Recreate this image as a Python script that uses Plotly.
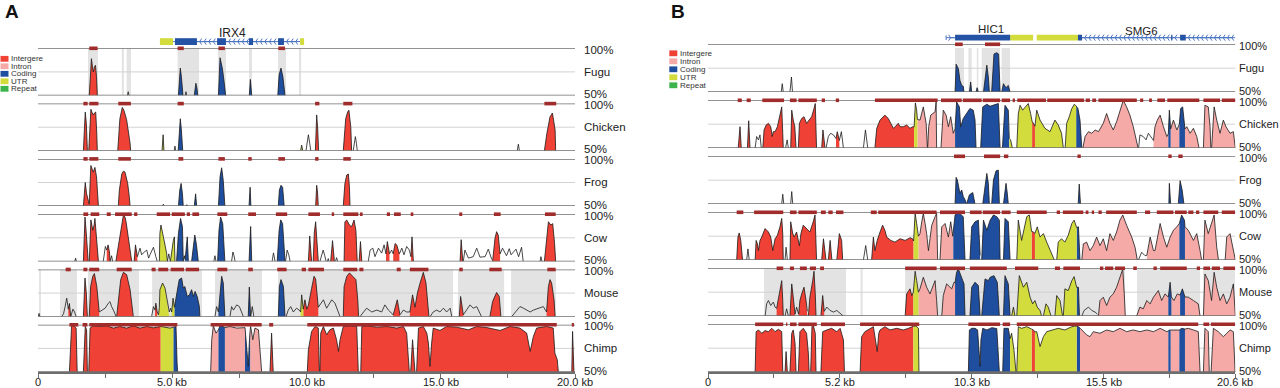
import numpy as np
import plotly.graph_objects as go

W_PX, H_PX = 1280, 388

# ---------------- categories / labels ----------------
SPECIES = ["Fugu", "Chicken", "Frog", "Cow", "Mouse", "Chimp"]
LEGEND_LABELS = ["Intergere", "Intron", "Coding", "UTR", "Repeat"]
LEGEND_KEYS = ["I", "N", "C", "U", "R"]
A_XTICKS = [0, 2.5, 5, 7.5, 10, 12.5, 15, 17.5, 20]
A_XTICKTEXT = ["0", "", "5.0 kb", "", "10.0 kb", "", "15.0 kb", "", "20.0 kb"]
B_XTICKS = [0, 2.575, 5.15, 7.725, 10.3, 12.875, 15.45, 18.025, 20.6]
B_XTICKTEXT = ["0", "", "5.2 kb", "", "10.3 kb", "", "15.5 kb", "", "20.6 kb"]

# ---------------- panel A conservation (kb, % identity) ----------------
A_FUGU = [
    ("I", [1.91, 1.95, 1.99, 2.03, 2.06, 2.10, 2.14, 2.18, 2.21], [50, 70, 89, 80, 75, 80, 82, 70, 50]),
    ("W", [3.33, 3.36, 3.39], [50, 54, 50]),
    ("C", [5.23, 5.27, 5.30, 5.34, 5.40], [50, 70, 79, 70, 50]),
    ("W", [5.48, 5.51, 5.54], [50, 54, 50]),
    ("C", [5.82, 5.86, 5.88, 5.92, 5.95], [50, 58, 63, 58, 50]),
    ("C", [6.72, 6.76, 6.78, 6.82, 6.87, 6.93, 6.99], [50, 75, 90, 85, 78, 65, 50]),
    ("C", [7.87, 7.91, 7.96], [50, 67, 50]),
    ("C", [8.93, 8.98, 9.05, 9.12, 9.20], [50, 72, 79, 70, 50]),
]
A_CHICKEN = [
    ("I", [1.69, 1.73, 1.76, 1.80, 1.84], [50, 83, 91, 79, 50]),
    ("I", [1.89, 1.93, 1.97, 2.02, 2.06, 2.10, 2.15, 2.19, 2.21], [50, 76, 94, 90, 88, 90, 91, 68, 50]),
    ("I", [2.97, 3.05, 3.14, 3.20, 3.30, 3.38, 3.43, 3.45], [50, 84, 96, 93, 83, 70, 58, 50]),
    ("U", [4.62, 4.66, 4.69], [50, 67, 50]),
    ("W", [5.07, 5.10, 5.13], [50, 55, 50]),
    ("C", [5.22, 5.26, 5.30, 5.34, 5.39], [50, 70, 84, 72, 50]),
    ("U", [9.78, 9.82, 9.86], [50, 56, 50]),
    ("W", [9.98, 10.03, 10.07, 10.12, 10.16], [50, 58, 67, 58, 50]),
    ("I", [10.33, 10.36, 10.38, 10.42, 10.45], [50, 80, 88, 72, 50]),
    ("I", [11.37, 11.41, 11.46, 11.53, 11.58, 11.65, 11.68], [50, 68, 84, 91, 93, 75, 50]),
    ("W", [11.74, 11.78, 11.82, 11.86, 11.89], [50, 58, 65, 58, 50]),
    ("W", [17.85, 17.89, 17.93], [50, 57, 50]),
    ("I", [18.86, 18.95, 19.07, 19.16, 19.26, 19.28], [50, 68, 86, 90, 72, 50]),
]
A_FROG = [
    ("I", [1.69, 1.73, 1.76, 1.81, 1.86, 1.91, 1.95, 1.97, 2.02, 2.06, 2.12, 2.18, 2.25],
     [50, 67, 75, 63, 56, 52, 81, 93, 89, 86, 91, 81, 50]),
    ("I", [2.99, 3.03, 3.12, 3.18, 3.24, 3.34, 3.40, 3.43], [50, 67, 84, 87, 86, 74, 60, 50]),
    ("W", [4.63, 4.67, 4.71], [50, 52, 50]),
    ("C", [5.23, 5.28, 5.33, 5.38, 5.41], [50, 67, 74, 63, 50]),
    ("W", [5.51, 5.54, 5.57], [50, 51.5, 50]),
    ("C", [5.82, 5.87, 5.91], [50, 63, 50]),
    ("C", [6.72, 6.78, 6.84, 6.90, 6.96], [50, 81, 90.6, 77, 50]),
    ("C", [7.86, 7.90, 7.93], [50, 70, 50]),
    ("C", [8.95, 8.99, 9.05, 9.11, 9.17], [50, 67, 72, 70, 50]),
    ("I", [10.34, 10.38, 10.41, 10.44], [50, 72, 65, 50]),
    ("I", [11.37, 11.43, 11.50, 11.56, 11.60, 11.62], [50, 74, 83, 84, 70, 50]),
]
A_COW = [
    ("W", [1.37, 1.40, 1.43], [50, 53.5, 50]),
    ("I", [1.69, 1.73, 1.75, 1.79, 1.84, 1.87], [50, 87, 97, 83, 62, 50]),
    ("I", [1.91, 1.95, 1.97, 2.04, 2.09, 2.12, 2.18, 2.25], [50, 83, 94, 83, 88.5, 95.5, 76, 50]),
    ("W", [2.43, 2.51, 2.56], [50, 65.8, 62]),
    ("I", [2.56, 2.61, 2.66, 2.69], [62, 67.5, 60, 50]),
    ("W", [2.69, 2.74, 2.78], [50, 56, 50]),
    ("I", [2.90, 2.99, 3.08, 3.18, 3.24, 3.28, 3.36, 3.45, 3.49], [50, 65.8, 83, 99, 97, 92, 76, 55, 50]),
    ("I", [3.58, 3.63, 3.70], [50, 67.5, 55]),
    ("W", [3.70, 3.80, 3.86, 3.92, 4.05, 4.12, 4.17, 4.30, 4.39, 4.44], [55, 64, 57, 59, 62, 53.5, 57, 65, 55, 50]),
    ("U", [4.52, 4.54, 4.58, 4.67, 4.73, 4.79, 4.82], [50, 79.8, 88.5, 76, 67.5, 58.8, 50]),
    ("W", [4.82, 4.87, 4.93], [50, 58, 50]),
    ("U", [4.93, 4.98, 5.04, 5.08, 5.10], [50, 62, 72, 76, 50]),
    ("C", [5.16, 5.23, 5.31, 5.38, 5.41], [50, 79.8, 95.5, 86.8, 50]),
    ("W", [5.41, 5.45, 5.48], [50, 56, 52]),
    ("C", [5.48, 5.53, 5.56, 5.60], [52, 70, 76, 50]),
    ("C", [5.72, 5.78, 5.84, 5.90, 5.97], [50, 65, 78, 68, 50]),
    ("W", [6.55, 6.59, 6.63], [50, 56, 50]),
    ("C", [6.69, 6.74, 6.80, 6.88, 6.96], [50, 83, 97, 90, 50]),
    ("W", [7.21, 7.26, 7.30, 7.34], [50, 60, 56, 50]),
    ("C", [7.86, 7.89, 7.92, 7.96], [50, 75, 87, 50]),
    ("W", [8.72, 8.77, 8.83], [50, 59, 50]),
    ("C", [8.91, 8.98, 9.04, 9.11, 9.20], [50, 83, 94, 90, 50]),
    ("W", [9.22, 9.28, 9.34, 9.39], [50, 62, 57, 50]),
    ("I", [10.07, 10.12, 10.19], [50, 77, 50]),
    ("I", [10.25, 10.29, 10.34, 10.39, 10.44], [50, 80, 92, 75, 50]),
    ("W", [10.50, 10.57, 10.62, 10.68, 10.73], [50, 58, 62, 56, 50]),
    ("W", [10.78, 10.81, 10.84], [50, 53, 50]),
    ("I", [10.90, 10.97, 11.04], [50, 72, 50]),
    ("W", [11.08, 11.12, 11.16], [50, 54, 50]),
    ("I", [11.40, 11.43, 11.50, 11.60, 11.68, 11.77, 11.84, 11.89], [50, 92, 93.8, 88.5, 86.8, 93.8, 83, 50]),
    ("I", [11.96, 12.01, 12.06], [50, 71, 50]),
    ("W", [12.30, 12.37, 12.47, 12.55, 12.68, 12.80, 12.89, 12.96], [50, 62, 64, 55, 64, 58.8, 67.5, 58]),
    ("I", [12.96, 13.01, 13.09], [58, 71, 58]),
    ("W", [13.09, 13.17, 13.23], [58, 62, 58]),
    ("I", [13.23, 13.30, 13.36, 13.46], [58, 69, 67.5, 58]),
    ("W", [13.46, 13.55, 13.63, 13.73, 13.83, 13.89], [58, 64, 57, 65.8, 62, 55]),
    ("I", [13.89, 13.93, 13.98], [55, 76, 50]),
    ("I", [15.72, 15.76, 15.82], [50, 73, 50]),
    ("W", [15.84, 15.90, 16.03, 16.21, 16.34, 16.46, 16.65, 16.77, 16.90], [50, 62, 53.5, 55, 64, 54.5, 55, 63, 52]),
    ("I", [16.93, 17.02, 17.08, 17.14, 17.21], [50, 74.5, 81.5, 78, 58]),
    ("W", [17.21, 17.30, 17.45, 17.55, 17.62, 17.80, 17.90, 18.01, 18.07], [58, 64, 56, 63.5, 57, 63, 55, 65, 50]),
    ("W", [18.70, 18.73, 18.77], [50, 55, 50]),
    ("I", [18.86, 18.95, 19.01, 19.10, 19.17, 19.24, 19.28], [50, 76, 92, 88.5, 90, 69, 50]),
]
A_MOUSE = [
    ("W", [0.01, 0.04, 0.07], [50, 53.5, 50]),
    ("W", [0.88, 0.95, 1.01, 1.07, 1.13], [50, 53, 60.7, 69.6, 58]),
    ("I", [1.13, 1.17, 1.22], [58, 64, 50]),
    ("W", [1.22, 1.30, 1.36, 1.42], [50, 58, 55, 50]),
    ("I", [1.69, 1.73, 1.75, 1.80, 1.84], [50, 82, 91, 75, 50]),
    ("I", [1.91, 1.96, 2.04, 2.10, 2.19, 2.25, 2.28], [50, 82, 92.8, 95.7, 82, 67.9, 55]),
    ("W", [2.28, 2.37, 2.50, 2.62, 2.68, 2.74, 2.81, 2.91], [55, 57, 59, 64.3, 66, 60.7, 57, 50]),
    ("I", [2.93, 2.99, 3.08, 3.18, 3.30, 3.43, 3.53, 3.55], [50, 67.9, 89.3, 97, 94.6, 78.6, 57, 50]),
    ("W", [4.23, 4.30, 4.36], [50, 60.7, 57]),
    ("I", [4.36, 4.39, 4.44], [57, 64.3, 55]),
    ("W", [4.44, 4.49], [55, 52]),
    ("U", [4.49, 4.52, 4.54, 4.64, 4.73, 4.79, 4.85, 4.89], [52, 60, 78.6, 85.7, 80.4, 69.6, 60.7, 55]),
    ("W", [4.89, 4.94, 4.98], [55, 59, 55]),
    ("U", [4.98, 5.03, 5.08], [55, 69.6, 60]),
    ("C", [5.08, 5.16, 5.26, 5.35, 5.41, 5.47, 5.56, 5.64, 5.72, 5.79, 5.85, 5.93, 6.01, 6.03],
     [60, 71.4, 89.3, 91, 80.4, 82, 71.4, 73.2, 78.6, 71.4, 76.8, 71.4, 60.7, 50]),
    ("W", [6.59, 6.65, 6.72], [50, 60.7, 55]),
    ("C", [6.72, 6.80, 6.84, 6.90, 6.96], [55, 82, 92.8, 85.7, 50]),
    ("W", [7.15, 7.21, 7.28, 7.40, 7.50, 7.59, 7.65], [50, 60.7, 57, 62.5, 60.7, 55, 50]),
    ("C", [7.83, 7.87, 7.92], [50, 81.4, 50]),
    ("W", [7.92, 7.98, 8.04], [50, 60.7, 50]),
    ("C", [8.95, 8.99, 9.05, 9.14, 9.20], [50, 82, 89.3, 82, 50]),
    ("W", [9.24, 9.32, 9.41, 9.51, 9.63, 9.73, 9.78], [50, 57, 60.7, 55, 59, 57, 55]),
    ("U", [9.78, 9.82, 9.88], [55, 73.2, 58]),
    ("I", [9.88, 9.94, 10.01, 10.07, 10.19, 10.28, 10.34, 10.40, 10.44], [58, 67.9, 58, 62, 80, 92.8, 90, 75, 60]),
    ("W", [10.44, 10.63, 10.75, 10.94, 11.06, 11.19, 11.25], [60, 67.9, 59, 67.9, 64.3, 55, 50]),
    ("I", [11.37, 11.40, 11.50, 11.60, 11.72, 11.84, 11.91, 11.94], [50, 82, 92.8, 96.4, 92.8, 89.3, 67.9, 50]),
    ("W", [11.99, 12.12, 12.24, 12.43, 12.62, 12.80, 12.92, 13.05, 13.23], [50, 55, 59, 55, 57, 55, 62.5, 57, 52]),
    ("I", [13.23, 13.30, 13.38, 13.48], [52, 60, 67.9, 52]),
    ("W", [13.48, 13.61, 13.73, 13.85], [52, 57, 55, 55]),
    ("I", [13.85, 13.95, 14.04, 14.13, 14.23, 14.35, 14.45, 14.54, 14.56], [55, 73.2, 60, 75, 85.7, 97, 85.7, 57, 50]),
    ("W", [14.60, 14.72, 14.85, 14.97, 15.10, 15.22, 15.35, 15.41], [50, 55, 57, 55, 59, 55, 59, 50]),
    ("I", [15.69, 15.74, 15.84], [50, 71.4, 52]),
    ("W", [15.84, 15.97, 16.09, 16.21, 16.34, 16.52], [52, 57, 62.5, 59, 60.7, 50]),
    ("I", [16.83, 16.93, 17.08, 17.18, 17.24], [50, 66, 75.7, 71.4, 50]),
    ("W", [17.64, 17.83, 17.95, 18.08, 18.20, 18.33, 18.45, 18.63, 18.82, 18.94], [50, 57, 60.7, 59, 57, 55, 57, 59, 60.7, 55]),
    ("I", [18.94, 19.01, 19.07, 19.13, 19.22, 19.26], [55, 82, 89.3, 85.7, 67.9, 50]),
]
A_CHIMP = [
    ("I", [1.17, 1.22, 1.25, 1.34, 1.42, 1.46], [50, 80.6, 98.2, 98.9, 96.5, 50]),
    ("I", [1.69, 1.73, 1.76, 1.81, 1.84], [50, 84.2, 98.2, 94.7, 50]),
    ("I", [1.89, 1.94, 2.06, 2.31, 2.56, 2.81, 3.05, 3.30, 3.55, 3.80, 4.05, 4.30, 4.57],
     [50, 96.5, 98.9, 98.2, 98.9, 96.5, 98.2, 96.5, 98.9, 96.5, 98.2, 96.8, 98.2]),
    ("U", [4.57, 4.73, 4.92, 5.04], [98.2, 97.5, 96.5, 97.5]),
    ("C", [5.04, 5.14, 5.18, 5.20], [97.5, 98.2, 60, 50]),
    ("N", [6.43, 6.47, 6.53, 6.63, 6.72], [50, 84.2, 98.9, 91.2, 94.7]),
    ("C", [6.72, 6.78, 6.90, 6.96], [94.7, 98.9, 98.2, 97]),
    ("N", [6.96, 7.15, 7.40, 7.71], [97, 98.2, 96.5, 97]),
    ("C", [7.71, 7.77, 7.83, 7.87, 7.90], [97, 73.6, 56, 80.6, 94]),
    ("N", [7.90, 7.92, 8.00, 8.08, 8.21, 8.29, 8.33], [94, 98.2, 84.2, 96.5, 94.7, 63, 50]),
    ("I", [8.64, 8.70, 8.76], [50, 91.2, 50]),
    ("I", [10.03, 10.07, 10.19, 10.32, 10.44, 10.48], [50, 73.6, 93, 98.2, 96.5, 50]),
    ("I", [10.50, 10.53, 10.63, 10.75, 10.87, 11.00, 11.12, 11.19, 11.25, 11.31, 11.37, 11.62, 11.87, 11.93],
     [50, 91.2, 98.2, 89.4, 94.7, 96.5, 84.2, 71.8, 84.2, 91.2, 98.2, 98.9, 98.2, 50]),
    ("I", [12.02, 12.06, 12.24, 12.62, 13.00, 13.36, 13.61, 13.73, 13.79, 13.83],
     [50, 98.2, 98.9, 97.5, 98.2, 96.5, 98.2, 91.2, 66.5, 50]),
    ("I", [13.88, 13.95, 14.04], [50, 84.2, 50]),
    ("I", [14.10, 14.17, 14.35, 14.48, 14.54, 14.60, 14.66, 14.72, 14.97, 15.22, 15.59, 16.03, 16.34, 16.71,
           17.21, 17.58, 17.95, 18.20, 18.33, 18.45, 18.57, 18.94, 19.19, 19.25, 19.34, 19.38],
     [50, 96.5, 98.2, 91.2, 80.6, 56, 80.6, 96.5, 94, 98.2, 97.5, 94.7, 98.2, 97.1,
      94, 98.2, 96.5, 91.2, 71.8, 87.7, 96.5, 98.2, 96.5, 70, 63, 50]),
    ("I", [19.88, 19.91, 19.96], [50, 93, 50]),
]

# conserved-region bars and shaded blocks (kb)
A_FUGU_BARS = [[1.91, 2.22], [5.20, 5.43], [6.72, 6.96], [8.95, 9.20]]
A_CHICKEN_BARS = [[1.69, 1.85], [1.91, 2.25], [2.99, 3.46], [5.20, 5.43], [10.32, 10.48], [11.37, 11.71], [18.86, 19.30]]
A_FROG_BARS = [[1.69, 1.85], [1.91, 2.25], [2.99, 3.46], [5.23, 5.41], [6.72, 6.96], [7.83, 7.96], [8.95, 9.20],
               [10.32, 10.45], [11.37, 11.65]]
A_COW_BARS = [[1.69, 1.87], [1.96, 2.28], [2.56, 2.71], [2.87, 3.49], [3.58, 3.70], [4.42, 4.92], [4.98, 5.47],
              [5.54, 5.66], [5.75, 6.00], [6.68, 7.05], [7.83, 8.12], [8.86, 9.28], [10.07, 10.50], [10.94, 11.03],
              [11.37, 11.93], [11.99, 12.09], [12.99, 13.11], [13.26, 13.51], [13.88, 13.98], [15.69, 15.80],
              [16.98, 17.23], [18.88, 19.28]]
A_MOUSE_BARS = [[1.03, 1.22], [1.69, 1.84], [1.91, 2.28], [2.93, 3.49], [4.23, 4.38], [4.48, 4.85], [4.94, 5.44],
                [5.50, 6.00], [6.68, 7.05], [7.83, 8.00], [8.91, 9.26], [9.82, 9.98], [10.07, 10.65], [11.37, 11.89],
                [11.97, 12.12], [13.36, 13.51], [13.85, 14.54], [15.69, 15.82], [16.81, 17.27], [18.97, 19.28]]
A_CHIMP_BARS = [[1.17, 1.50], [1.66, 1.84], [1.91, 5.19], [6.43, 8.33], [8.61, 8.76], [10.03, 19.32], [19.88, 19.96]]
A_FUGU_GRAY = [[1.86, 2.23], [3.12, 3.20], [3.30, 3.46], [5.20, 6.00], [6.70, 7.00], [7.86, 7.97], [8.94, 9.24], [9.72, 9.80]]
A_MOUSE_GRAY = [[0.04, 0.11], [0.82, 1.45], [1.86, 3.76], [4.25, 6.11], [6.59, 8.34], [8.94, 15.46], [15.64, 17.36], [17.62, 19.29]]

# gene model A (IRX4)
A_GENE_NAME = "IRX4"
A_GENE_NAME_X = 7.23
A_GENE_UTR = [[4.54, 5.03], [9.76, 9.91]]
A_GENE_CDS = [[5.10, 5.92], [6.67, 7.00], [7.86, 8.01], [8.94, 9.16]]
A_GENE_INTRONS = [[5.92, 6.67], [7.00, 7.86], [8.01, 8.94], [9.16, 9.76]]

# ---------------- panel B conservation ----------------
B_FUGU = [
    ("W", [2.86, 2.90, 2.94], [50, 58.8, 50]),
    ("W", [3.20, 3.26, 3.30], [50, 65.8, 50]),
    ("C", [9.65, 9.69, 9.78, 9.84, 9.91, 9.97, 10.00], [50, 79.2, 74.6, 62.3, 57, 56, 50]),
    ("C", [10.21, 10.26, 10.30], [50, 60.6, 50]),
    ("C", [10.47, 10.51, 10.56], [50, 54.6, 50]),
    ("C", [10.76, 10.82, 10.89, 10.95, 10.99], [50, 65.8, 78.2, 65.8, 50]),
    ("C", [11.08, 11.12, 11.17, 11.28, 11.35, 11.41], [50, 72.9, 89.8, 91.2, 89.8, 50]),
    ("C", [11.47, 11.54, 11.64, 11.73, 11.80], [50, 58.8, 54.6, 57, 50]),
]
B_CHICKEN = [
    ("I", [1.18, 1.22, 1.25, 1.30], [50, 69, 72.4, 50]),
    ("I", [1.54, 1.59, 1.64], [50, 78.6, 50]),
    ("W", [1.84, 1.90, 1.97, 2.03, 2.08], [50, 62.1, 58.6, 63.8, 50]),
    ("I", [2.14, 2.19, 2.27, 2.36, 2.45, 2.51, 2.55, 2.62, 2.71, 2.81, 2.88, 2.92, 2.94],
     [50, 69, 74.1, 75.9, 72.4, 62.1, 67.2, 67.2, 72.4, 84.5, 93.1, 65.5, 50]),
    ("W", [3.03, 3.09, 3.14], [50, 58.6, 50]),
    ("I", [3.23, 3.27, 3.33, 3.39, 3.44], [50, 89.7, 79.3, 72.4, 50]),
    ("I", [3.53, 3.57, 3.66, 3.75, 3.85, 3.96, 4.05, 4.14, 4.19, 4.24], [50, 75.9, 81, 82.8, 75.9, 79.3, 82.8, 91.4, 96.6, 50]),
    ("I", [4.44, 4.49, 4.57], [50, 69, 50]),
    ("W", [4.61, 4.70, 4.79, 4.90, 5.00], [50, 62.1, 65.5, 63.8, 60]),
    ("I", [5.00, 5.05, 5.13], [60, 67.2, 58]),
    ("W", [5.13, 5.21, 5.29], [58, 67.2, 50]),
    ("W", [6.07, 6.15, 6.24], [50, 69, 50]),
    ("I", [6.52, 6.59, 6.72, 6.91, 7.04, 7.24, 7.34, 7.43, 7.50, 7.63, 7.76, 7.89, 7.99, 8.05],
     [50, 70.7, 79.3, 84.5, 81, 70.7, 73.1, 75.9, 72.4, 72.4, 74.1, 70.7, 72.4, 72]),
    ("U", [8.05, 8.10, 8.15, 8.18], [72, 97.3, 89.7, 80]),
    ("N", [8.18, 8.28, 8.41, 8.52, 8.57], [80, 79.3, 93.1, 75.9, 50]),
    ("N", [8.58, 8.62, 8.70, 8.80, 8.87, 8.91, 8.93], [50, 72.4, 84.5, 86.2, 88, 98.3, 50]),
    ("N", [9.10, 9.19, 9.30, 9.39, 9.48, 9.58, 9.65], [50, 89.7, 84.5, 72.4, 82.8, 65.5, 70]),
    ("C", [9.65, 9.71, 9.82, 9.87, 9.97, 10.10, 10.23, 10.36, 10.43, 10.47], [70, 98.3, 93.1, 72.4, 81, 86.2, 91.4, 89.7, 79.3, 50]),
    ("C", [10.65, 10.73, 10.89, 11.02, 11.21, 11.34, 11.41], [50, 93.1, 95.9, 93.8, 95.5, 96.6, 50]),
    ("C", [11.50, 11.60, 11.73, 11.77], [50, 94.8, 89.7, 60]),
    ("U", [11.77, 11.82, 11.89], [60, 58.6, 50]),
    ("U", [12.06, 12.12, 12.19, 12.29, 12.42, 12.51, 12.60, 12.66], [50, 86.2, 94.8, 89.7, 93.8, 96.6, 86.2, 78]),
    ("I", [12.66, 12.71, 12.77], [78, 75.9, 73]),
    ("U", [12.77, 12.84, 12.97, 13.16, 13.36, 13.55, 13.68, 13.81, 13.88], [73, 89.7, 79.3, 70.7, 67.2, 79.3, 74.1, 65.5, 50]),
    ("U", [13.95, 14.01, 14.11, 14.21, 14.31, 14.38], [50, 75.9, 82.8, 91.4, 95.9, 94]),
    ("C", [14.38, 14.45, 14.53, 14.60], [94, 91.4, 79.3, 50]),
    ("N", [14.64, 14.73, 14.86, 14.99, 15.12, 15.25, 15.44, 15.57, 15.70, 15.83, 15.96, 16.09, 16.22, 16.35,
           16.48, 16.61, 16.74, 16.80],
     [50, 62.1, 67.2, 65.5, 69, 67.2, 75.9, 86.2, 75.9, 69, 77.6, 89.7, 100, 93.1, 84.5, 72.4, 58.6, 50]),
    ("W", [16.82, 16.87, 17.00, 17.11, 17.20, 17.33, 17.40], [50, 63.8, 62.1, 58.6, 65.5, 60.3, 58]),
    ("N", [17.40, 17.46, 17.55, 17.66, 17.79, 17.92, 17.98], [58, 72.4, 79.3, 84.5, 72.4, 62.1, 65]),
    ("C", [17.98, 18.02, 18.07], [65, 89.7, 70]),
    ("N", [18.07, 18.18, 18.31, 18.41], [70, 79.3, 69, 75]),
    ("C", [18.41, 18.46, 18.54, 18.61, 18.63], [75, 91.4, 93.1, 79.3, 70]),
    ("N", [18.63, 18.70, 18.83, 18.96, 19.09, 19.15, 19.18], [70, 72.4, 65.5, 70.7, 62.1, 51.7, 50]),
    ("N", [19.35, 19.41, 19.54, 19.61, 19.64], [50, 94.8, 93.1, 72.4, 50]),
    ("N", [19.67, 19.77, 19.87, 20.00, 20.13, 20.23, 20.39, 20.52, 20.59, 20.60],
     [50, 93.1, 79.3, 65.5, 79.3, 72.4, 65.5, 67.2, 51.7, 50]),
]
B_FROG = [
    ("W", [2.88, 2.92, 2.96], [50, 60.3, 50]),
    ("W", [3.23, 3.27, 3.31], [50, 63.1, 50]),
    ("C", [9.65, 9.69, 9.74, 9.84, 9.91, 9.97, 10.04, 10.10], [50, 78, 75.2, 61.4, 64.8, 57.9, 54.5, 50]),
    ("C", [10.10, 10.21, 10.34, 10.43], [50, 59.7, 62.1, 50]),
    ("C", [10.73, 10.82, 10.89, 10.95, 10.99], [50, 68.3, 82.1, 71.7, 50]),
    ("C", [11.08, 11.15, 11.25, 11.34, 11.38], [50, 75.2, 84.8, 85.5, 50]),
    ("C", [11.54, 11.60, 11.64, 11.69, 11.73], [50, 68.3, 71.7, 61.4, 50]),
    ("C", [14.46, 14.50, 14.55], [50, 71, 50]),
    ("C", [18.00, 18.02, 18.07], [50, 71.7, 50]),
    ("C", [18.37, 18.44, 18.52, 18.59], [50, 74.5, 64.8, 50]),
]
B_COW = [
    ("I", [1.12, 1.17, 1.22, 1.28, 1.35], [50, 74.1, 78.4, 70.6, 50]),
    ("W", [1.51, 1.56, 1.61], [50, 61.7, 50]),
    ("I", [1.84, 1.88, 1.93, 1.97, 2.03, 2.10, 2.23, 2.36, 2.45, 2.53, 2.62, 2.71, 2.81, 2.88, 2.92, 2.94],
     [50, 70.6, 67, 59.9, 70.6, 74.1, 83, 79.4, 74.1, 59.9, 72.3, 75.9, 84.8, 93.6, 77.7, 50]),
    ("W", [3.01, 3.05, 3.10], [50, 63.5, 50]),
    ("I", [3.20, 3.23, 3.31, 3.37, 3.46, 3.53, 3.57], [50, 90.1, 77.7, 74.1, 79.4, 70.6, 65]),
    ("I", [3.57, 3.63, 3.72, 3.85, 3.98, 4.11, 4.18, 4.22, 4.24], [65, 77.7, 86.5, 83, 79.4, 90.1, 97.2, 67, 50]),
    ("I", [4.44, 4.51, 4.61], [50, 72.3, 50]),
    ("I", [4.70, 4.77, 4.84], [50, 70.6, 50]),
    ("I", [5.03, 5.13, 5.22, 5.26], [50, 77.7, 70.6, 50]),
    ("W", [6.07, 6.16, 6.24], [50, 65.2, 50]),
    ("I", [6.39, 6.46, 6.52, 6.61, 6.72, 6.82, 6.91, 6.98, 7.14, 7.30, 7.50, 7.70, 7.89, 7.99, 8.03],
     [50, 74.1, 59.9, 70.6, 79.4, 86.5, 81.2, 74.1, 70.6, 68.8, 72.3, 70.6, 73.4, 72.3, 70]),
    ("U", [8.03, 8.09, 8.15, 8.22], [70, 98.9, 88.3, 75]),
    ("N", [8.22, 8.28, 8.35, 8.41, 8.48, 8.54, 8.61, 8.67, 8.74, 8.87, 8.93, 8.97],
     [75, 77.7, 90.1, 98.9, 88.3, 77.7, 59.9, 74.1, 86.5, 95.4, 98.9, 50]),
    ("N", [9.06, 9.13, 9.26, 9.39, 9.48, 9.56, 9.58], [50, 84.8, 88.3, 74.1, 90.1, 75, 80]),
    ("C", [9.58, 9.65, 9.78, 9.91, 9.97, 10.04], [80, 97.2, 100, 97.2, 95.4, 50]),
    ("C", [10.23, 10.30, 10.43, 10.56, 10.63], [50, 84.8, 90.1, 91.8, 55]),
    ("C", [10.69, 10.76, 10.89, 10.99, 11.02, 11.15, 11.28, 11.38, 11.41], [50, 91.8, 81.2, 88.3, 91.8, 97.2, 95.4, 91.8, 50]),
    ("C", [11.54, 11.60, 11.73, 11.80], [50, 93.6, 90.1, 50]),
    ("U", [12.06, 12.12, 12.25, 12.45, 12.55, 12.64], [50, 91.8, 70.6, 95.4, 97.2, 80]),
    ("I", [12.64, 12.71, 12.77], [80, 79.4, 78]),
    ("U", [12.77, 12.86, 12.97, 13.10, 13.23, 13.36, 13.49, 13.53], [78, 84.8, 74.1, 77.7, 68.8, 59.9, 52.8, 50]),
    ("U", [13.62, 13.68, 13.81, 13.94, 14.07, 14.21, 14.30, 14.38, 14.40], [50, 68.8, 72.3, 68.8, 75.9, 88.3, 91.8, 84.8, 84]),
    ("C", [14.40, 14.47, 14.53], [84, 84.8, 50]),
    ("N", [14.60, 14.66, 14.79, 14.92, 15.05, 15.18, 15.31, 15.44, 15.57, 15.70, 15.83, 15.96, 16.09, 16.20,
           16.35, 16.55, 16.68, 16.74, 16.77],
     [50, 67, 68.8, 59.9, 65.2, 74.1, 65.2, 72.3, 59.9, 77.7, 70.6, 79.4, 91.8, 97.2, 86.5, 74.1, 63.5, 56.4, 50]),
    ("W", [16.81, 16.94, 17.07, 17.14], [50, 58.2, 54.6, 55]),
    ("N", [17.14, 17.27, 17.40, 17.46], [55, 74.1, 59.9, 60]),
    ("N", [17.46, 17.66, 17.79, 17.92, 18.05, 18.18, 18.31, 18.41], [60, 88.3, 74.1, 63.5, 74.1, 81.2, 84.8, 88.3]),
    ("C", [18.41, 18.50, 18.61, 18.63], [88.3, 97.2, 91.8, 85]),
    ("N", [18.63, 18.76, 18.96, 19.09, 19.22, 19.28], [85, 81.2, 70.6, 77.7, 59.9, 50]),
    ("N", [19.35, 19.41, 19.54, 19.67, 19.77, 19.87, 19.94], [50, 91.8, 77.7, 90.1, 97.2, 63.5, 50]),
    ("N", [20.20, 20.26, 20.39, 20.52, 20.59, 20.60], [50, 74.1, 77.7, 59.9, 51, 50]),
]
B_MOUSE = [
    ("W", [2.23, 2.29, 2.36, 2.45, 2.55, 2.62, 2.68], [50, 62.8, 66.3, 61.1, 64.6, 59.4, 58]),
    ("I", [2.68, 2.75, 2.81, 2.88, 2.92, 2.94], [58, 69.8, 78.5, 87.1, 66.3, 50]),
    ("W", [3.01, 3.07, 3.14], [50, 57.6, 50]),
    ("I", [3.20, 3.27, 3.33, 3.40], [50, 83.7, 69.8, 52]),
    ("W", [3.40, 3.46, 3.54], [52, 59.4, 52]),
    ("I", [3.54, 3.59, 3.66, 3.75, 3.83, 3.88], [52, 66.3, 73.2, 80.2, 66.3, 55]),
    ("I", [3.92, 3.98, 4.09, 4.14, 4.19, 4.22], [50, 69.8, 87.1, 96.9, 73.2, 50]),
    ("I", [4.41, 4.48, 4.54], [50, 71.5, 55]),
    ("W", [4.54, 4.64, 4.77, 4.90, 5.03, 5.16, 5.29], [55, 59.4, 55.9, 54.2, 55.9, 52.4, 50]),
    ("I", [7.70, 7.76, 7.89, 7.96, 8.02], [50, 73.2, 78.5, 71.5, 75]),
    ("U", [8.02, 8.09, 8.15, 8.22], [75, 96.9, 87.1, 75]),
    ("N", [8.22, 8.28, 8.41, 8.54, 8.67, 8.80, 8.87, 8.93, 8.97], [75, 78.5, 90.6, 80.2, 73.2, 81.9, 87.1, 66.3, 50]),
    ("N", [9.13, 9.19, 9.32, 9.52, 9.61, 9.65], [50, 71.5, 83.7, 78.5, 85.4, 85]),
    ("C", [9.65, 9.71, 9.78, 9.91, 10.00, 10.04], [85, 95.8, 99.3, 90.6, 83.7, 50]),
    ("C", [10.23, 10.30, 10.43, 10.56, 10.63], [50, 80.2, 85.4, 81.9, 50]),
    ("C", [10.69, 10.82, 10.95, 11.02, 11.17, 11.30, 11.38], [50, 88.9, 87.1, 90.6, 92.3, 85.4, 50]),
    ("C", [11.54, 11.60, 11.73, 11.80], [50, 92.3, 83.7, 50]),
    ("U", [11.86, 11.93, 11.99], [50, 59.4, 50]),
    ("U", [12.06, 12.16, 12.32, 12.45, 12.58, 12.68, 12.77, 12.86, 12.97, 13.03],
     [50, 92.3, 80.2, 85.4, 69.8, 62.8, 66.3, 59.4, 55.9, 50]),
    ("U", [13.10, 13.20, 13.29, 13.40], [50, 62.8, 59.4, 50]),
    ("U", [13.55, 13.62, 13.75, 13.85], [50, 71.5, 66.3, 50]),
    ("U", [13.88, 13.94, 14.07, 14.21, 14.30, 14.38, 14.40], [50, 78.5, 76.7, 87.1, 91.3, 83.7, 80]),
    ("C", [14.40, 14.47, 14.51], [80, 80.2, 50]),
    ("W", [14.60, 14.69, 14.86, 14.99, 15.12, 15.21], [50, 55.9, 59.4, 55.9, 54.2, 52]),
    ("N", [15.25, 15.31, 15.44, 15.57, 15.70, 15.83, 15.96, 16.09, 16.20, 16.26, 16.30],
     [50, 66.3, 69.8, 61.1, 69.8, 73.2, 80.2, 90.6, 99.3, 73.2, 50]),
    ("N", [16.74, 16.87, 17.00, 17.14, 17.27, 17.40, 17.59, 17.72, 17.85, 17.98],
     [50, 59.4, 57.6, 66.3, 62.8, 69.8, 76.7, 66.3, 73.2, 70]),
    ("C", [17.98, 18.05, 18.10], [70, 85.4, 70]),
    ("N", [18.10, 18.20, 18.33, 18.44], [70, 66.3, 73.2, 72]),
    ("C", [18.44, 18.53, 18.63], [72, 78.5, 70]),
    ("N", [18.63, 18.76, 18.96, 19.15, 19.22], [70, 69.8, 66.3, 62.8, 50]),
    ("N", [19.35, 19.41, 19.54, 19.67, 19.77, 19.87, 20.00, 20.13, 20.26, 20.39, 20.52, 20.59, 20.60],
     [50, 94.1, 87.1, 66.3, 95.8, 80.2, 66.3, 73.2, 62.8, 69.8, 83.7, 55.9, 50]),
]
B_CHIMP = [
    ("I", [1.84, 1.88, 1.97, 2.10, 2.23, 2.36, 2.49, 2.62, 2.75, 2.88, 2.92],
     [50, 92.3, 94.1, 90.6, 93.4, 92.3, 95.8, 92.3, 94.8, 92.3, 50]),
    ("I", [3.01, 3.05, 3.10], [50, 71.5, 50]),
    ("I", [3.20, 3.27, 3.33, 3.40, 3.44], [50, 90.6, 94.1, 80.2, 50]),
    ("I", [3.53, 3.59, 3.72, 3.85, 3.92, 3.95], [50, 92.3, 95.8, 90.6, 69.8, 50]),
    ("I", [4.01, 4.06, 4.11, 4.19, 4.22], [50, 97.5, 99.3, 90.6, 50]),
    ("I", [4.41, 4.48, 4.64, 4.83, 5.03, 5.16, 5.29, 5.33], [50, 92.3, 94.1, 95.8, 92.3, 95.8, 83.7, 50]),
    ("I", [5.94, 6.00, 6.13, 6.33, 6.46, 6.54, 6.61, 6.67, 6.72, 6.91, 7.11, 7.37, 7.63, 7.83, 7.96, 8.02],
     [50, 87.1, 92.3, 95.8, 97.5, 83.7, 71.5, 90.6, 94.1, 97.5, 94.1, 95.8, 94.1, 95.8, 97.5, 98]),
    ("U", [8.02, 8.13, 8.22, 8.24], [98, 98.2, 95.8, 50]),
    ("C", [10.17, 10.21, 10.30, 10.43, 10.53, 10.60, 10.63, 10.66, 10.73, 10.89, 11.09, 11.28, 11.38],
     [50, 94.1, 95.8, 95.8, 94.1, 66.3, 55.9, 83.7, 95.8, 94.1, 96.5, 95.5, 50]),
    ("C", [11.51, 11.56, 11.73, 11.80], [50, 95.8, 95.8, 85]),
    ("U", [11.80, 11.86, 11.95, 12.03], [85, 90.6, 73.3, 50]),
    ("U", [12.06, 12.12, 12.25, 12.45, 12.58, 12.64], [50, 97.5, 95.8, 97.5, 95.8, 95]),
    ("I", [12.64, 12.71, 12.77], [95, 94.1, 92]),
    ("U", [12.77, 12.84, 12.97, 13.10, 13.23, 13.42, 13.68, 13.94, 14.21, 14.34, 14.40],
     [92, 92.3, 76.7, 87.1, 92.3, 94.1, 95.8, 94.1, 97.5, 98.2, 98]),
    ("C", [14.40, 14.47, 14.53], [98, 97.5, 96]),
    ("N", [14.53, 14.66, 14.79, 14.92, 15.05, 15.31, 15.57, 15.83, 16.09, 16.35, 16.61, 16.87, 17.14, 17.40,
           17.66, 17.92, 17.98],
     [96, 92.3, 88.9, 87.1, 92.3, 90.6, 94.1, 92.3, 95.8, 92.3, 94.1, 92.3, 94.1, 92.3, 95.8, 92.3, 93]),
    ("C", [17.98, 18.02, 18.07], [93, 94.1, 94]),
    ("N", [18.07, 18.24, 18.41], [94, 94.1, 94]),
    ("C", [18.41, 18.50, 18.63], [94, 95.8, 95]),
    ("N", [18.63, 18.76, 18.96, 19.15, 19.22], [95, 95.8, 94.1, 92.3, 50]),
    ("N", [19.35, 19.41, 19.54, 19.58], [50, 95.8, 92.3, 50]),
    ("N", [19.65, 19.74, 19.93, 20.13, 20.26, 20.39, 20.52, 20.59], [50, 95.8, 92.3, 87.1, 90.6, 94.1, 92.3, 50]),
]

B_FUGU_BARS = [[9.65, 9.95], [10.82, 11.41]]
B_CHICKEN_BARS = [[1.16, 1.32], [1.51, 1.67], [2.12, 2.97], [3.20, 3.46], [3.53, 4.25], [4.44, 4.57], [4.99, 5.12],
                  [6.52, 8.97], [9.10, 9.91], [9.95, 10.69], [10.73, 11.41], [11.47, 11.80], [11.90, 11.99],
                  [12.08, 13.20], [13.25, 14.69], [14.75, 14.92], [15.01, 15.16], [15.25, 16.75], [16.88, 17.00],
                  [17.23, 17.34], [17.55, 17.85], [17.94, 19.19], [19.35, 20.00], [20.07, 20.60]]
B_FROG_BARS = [[9.61, 10.04], [10.78, 11.41], [11.56, 11.73], [14.43, 14.56], [17.98, 18.11], [18.37, 18.54]]
B_COW_BARS = [[1.12, 1.38], [1.80, 2.94], [3.20, 3.46], [3.53, 4.25], [4.41, 4.60], [4.70, 4.87], [5.00, 5.29],
              [6.36, 6.59], [6.65, 8.93], [9.06, 10.04], [10.23, 10.69], [10.73, 11.41], [11.47, 11.82],
              [12.06, 13.23], [13.62, 13.75], [13.86, 14.66], [14.75, 14.86], [14.99, 15.08], [15.25, 15.38],
              [15.55, 16.75], [17.07, 17.27], [17.53, 18.18], [18.24, 18.70], [18.76, 18.96], [19.06, 19.19],
              [19.35, 19.93], [20.07, 20.59]]
B_MOUSE_BARS = [[2.68, 2.94], [3.20, 3.36], [3.59, 3.86], [3.98, 4.22], [4.38, 4.53], [7.70, 8.93], [9.06, 10.04],
                [10.23, 11.67], [11.99, 12.90], [13.55, 13.75], [13.88, 14.53], [15.31, 15.44], [15.51, 15.83],
                [15.90, 16.29], [16.61, 16.75], [17.40, 17.53], [17.66, 18.70], [19.09, 19.22], [19.35, 19.61],
                [19.68, 20.00], [20.13, 20.59]]
B_CHIMP_BARS = [[1.84, 2.94], [3.05, 3.10], [3.20, 3.46], [3.53, 4.25], [4.41, 5.35], [5.94, 8.25], [10.17, 11.41],
                [11.51, 11.80], [12.06, 19.15], [19.35, 19.58], [19.64, 20.59]]
B_FUGU_GRAY = [[9.65, 10.00], [10.17, 10.30], [10.50, 10.56], [10.69, 11.41], [11.47, 11.80]]
B_MOUSE_GRAY = [[2.19, 5.39], [5.96, 6.04], [7.70, 16.29], [16.76, 19.22], [19.34, 20.59]]

# gene models B (HIC1, SMG6)
B_GENE_NAMES = ["HIC1", "SMG6"]
B_GENE_NAME_X = [11.05, 16.94]
B_GENE_CDS = [[9.65, 11.80], [14.45, 14.61], [18.09, 18.14], [18.44, 18.66]]
B_GENE_UTR = [[11.80, 12.70], [12.84, 14.45]]
B_GENE_INTRONS = [[14.61, 18.09], [18.14, 18.44], [18.66, 20.60]]
B_GENE_START = [9.30, 9.65]

# ---------------- styling ----------------
COLORS = {"I": "#ef4135", "N": "#f5aaa8", "C": "#1f4e9f", "U": "#d2dc3c", "R": "#3cb44b"}
BAR_COLOR = "#a02c2c"
SHADE = "#e3e3e3"
GRID = "#d2d2d2"
TRACK_LINE = "#6e6e6e"
OUTLINE = "#1a1a1a"
GENE_BLUE = "#2452a4"
GENE_LINE = "#4a74c0"
UTR_COLOR = "#d2dc3c"
FONT = "Liberation Sans, Arial, Helvetica, sans-serif"

fig = go.Figure()
shapes, annotations, axes = [], [], {}


def ykey(k):
    return "yaxis" if k == 1 else f"yaxis{k}"


def yref(k):
    return "y" if k == 1 else f"y{k}"


PANELS = [
    dict(letter="A", letter_px=(12, 11.5), xa="x", xkey="xaxis", xpx=(38, 575), xmax=20.0,
         top0=48.3, step=55.3, h=47.2, ystart=1, lab_px=582.5, lab_size=11.5,
         tracks=[A_FUGU, A_CHICKEN, A_FROG, A_COW, A_MOUSE, A_CHIMP],
         bars=[A_FUGU_BARS, A_CHICKEN_BARS, A_FROG_BARS, A_COW_BARS, A_MOUSE_BARS, A_CHIMP_BARS],
         gray=[A_FUGU_GRAY, [], [], [], A_MOUSE_GRAY, []],
         ticks=A_XTICKS, ticktext=A_XTICKTEXT, gene_axis=13,
         legend_px=(0.5, 58.8, 7.5)),
    dict(letter="B", letter_px=(678, 11.5), xa="x2", xkey="xaxis2", xpx=(708, 1235.4), xmax=20.6,
         top0=44.3, step=56.0, h=47.8, ystart=7, lab_px=1237.5, lab_size=11,
         tracks=[B_FUGU, B_CHICKEN, B_FROG, B_COW, B_MOUSE, B_CHIMP],
         bars=[B_FUGU_BARS, B_CHICKEN_BARS, B_FROG_BARS, B_COW_BARS, B_MOUSE_BARS, B_CHIMP_BARS],
         gray=[B_FUGU_GRAY, [], [], [], B_MOUSE_GRAY, []],
         ticks=B_XTICKS, ticktext=B_XTICKTEXT, gene_axis=14,
         legend_px=(669.3, 53.3, 8.0)),
]

for P in PANELS:
    xa = P["xa"]
    axes[P["xkey"]] = dict(
        domain=[P["xpx"][0] / W_PX, P["xpx"][1] / W_PX], range=[0, P["xmax"]], anchor=yref(P["ystart"] + 5),
        tickvals=P["ticks"], showticklabels=False, ticks="outside", ticklen=4, tickwidth=1, tickcolor=TRACK_LINE,
        showline=True, linecolor=TRACK_LINE, linewidth=1.5, showgrid=False, zeroline=False, fixedrange=True)
    # tick labels placed just under the axis
    for tv, tt in zip(P["ticks"], P["ticktext"]):
        if tt:
            annotations.append(dict(text=tt, xref=xa, yref="paper", x=tv, y=1 - 382 / H_PX,
                                    xanchor="center", yanchor="middle", showarrow=False,
                                    font=dict(size=11, color="#222", family=FONT)))

    for i, (pieces, bars, gray) in enumerate(zip(P["tracks"], P["bars"], P["gray"])):
        k = P["ystart"] + i
        top = P["top0"] + i * P["step"]
        bot = top + P["h"]
        yn = yref(k)
        axes[ykey(k)] = dict(domain=[1 - bot / H_PX, 1 - top / H_PX], range=[50, 100], anchor=xa,
                             visible=False, fixedrange=True)
        for g0, g1 in gray:
            shapes.append(dict(type="rect", xref=xa, yref=yn, x0=g0, x1=g1, y0=50, y1=100,
                               fillcolor=SHADE, line=dict(width=0), layer="below"))
        shapes.append(dict(type="line", xref=xa, yref=yn, x0=0, x1=P["xmax"], y0=75, y1=75,
                           line=dict(color=GRID, width=1), layer="below"))
        for key in ["I", "N", "C", "U"]:
            xs, ys = [], []
            for c, px, pv in pieces:
                if c != key:
                    continue
                xs += list(px) + [px[-1], px[0], None]
                ys += list(pv) + [50, 50, None]
            if xs:
                fig.add_trace(go.Scatter(x=xs, y=ys, xaxis=xa, yaxis=yn, mode="lines", fill="toself",
                                         fillcolor=COLORS[key], line=dict(width=0), hoverinfo="skip",
                                         showlegend=False))
        xs, ys = [], []
        for c, px, pv in pieces:
            xs += list(px) + [None]
            ys += list(pv) + [None]
        fig.add_trace(go.Scatter(x=xs, y=ys, xaxis=xa, yaxis=yn, mode="lines",
                                 line=dict(color=OUTLINE, width=0.8), hoverinfo="skip", showlegend=False))
        for yv in (100, 50):
            shapes.append(dict(type="line", xref=xa, yref=yn, x0=0, x1=P["xmax"], y0=yv, y1=yv,
                               line=dict(color=TRACK_LINE, width=1.5), layer="above"))
        for b0, b1 in bars:
            shapes.append(dict(type="rect", xref=xa, yref="paper", x0=b0, x1=b1,
                               y0=1 - (top + 1.8) / H_PX, y1=1 - (top - 1.8) / H_PX,
                               fillcolor=BAR_COLOR, line=dict(width=0), layer="above"))
        lx = P["lab_px"] / W_PX
        for txt, ypx in (("100%", top + 1.5), (SPECIES[i], top + P["h"] / 2), ("50%", bot - 1.5)):
            annotations.append(dict(text=txt, xref="paper", yref="paper", x=lx, y=1 - ypx / H_PX,
                                    xanchor="left", yanchor="middle", showarrow=False, borderpad=0,
                                    font=dict(size=P["lab_size"], color="#222", family=FONT)))

    # panel letter
    annotations.append(dict(text="<b>%s</b>" % P["letter"], xref="paper", yref="paper",
                            x=P["letter_px"][0] / W_PX, y=1 - P["letter_px"][1] / H_PX,
                            xanchor="center", yanchor="middle", showarrow=False,
                            font=dict(size=19, color="#111", family=FONT)))
    # legend
    lx0, ly0, dy = P["legend_px"]
    for j, (lab, key) in enumerate(zip(LEGEND_LABELS, LEGEND_KEYS)):
        cy = ly0 + j * dy
        shapes.append(dict(type="rect", xref="paper", yref="paper", x0=lx0 / W_PX, x1=(lx0 + 8) / W_PX,
                           y0=1 - (cy + 2.9) / H_PX, y1=1 - (cy - 2.9) / H_PX,
                           fillcolor=COLORS[key], line=dict(width=0)))
        annotations.append(dict(text=lab, xref="paper", yref="paper", x=(lx0 + 8.5) / W_PX, y=1 - cy / H_PX,
                                xanchor="left", yanchor="middle", showarrow=False,
                                font=dict(size=8, color="#333", family=FONT)))

# ---------------- gene rows ----------------
for gk, xa in ((13, "x"), (14, "x2")):
    axes[ykey(gk)] = dict(domain=[1 - 48 / H_PX, 1 - 20 / H_PX], range=[0, 28], anchor=xa,
                          visible=False, fixedrange=True)

# chevron marker: 'y-left' draws a "<" opening to the right with a stem on the gene line
CHEV = dict(symbol="y-left", size=5, line=dict(color=GENE_LINE, width=1), color=GENE_LINE)

# panel A gene (line y=6.4, box 3.0-9.8 in gene-row units of 1 px above y=48)
GA_Y, GA_B0, GA_B1 = 6.4, 3.0, 9.8
shapes.append(dict(type="line", xref="x", yref="y13", x0=A_GENE_UTR[0][1], x1=A_GENE_UTR[1][0], y0=GA_Y, y1=GA_Y,
                   line=dict(color=GENE_LINE, width=1)))
for u0, u1 in A_GENE_UTR:
    shapes.append(dict(type="rect", xref="x", yref="y13", x0=u0, x1=u1, y0=GA_B0, y1=GA_B1,
                       fillcolor=UTR_COLOR, line=dict(width=0)))
for c0, c1 in A_GENE_CDS:
    shapes.append(dict(type="rect", xref="x", yref="y13", x0=c0, x1=c1, y0=GA_B0, y1=GA_B1,
                       fillcolor=GENE_BLUE, line=dict(width=0)))
chev_x = []
for s0, s1 in A_GENE_INTRONS:
    chev_x += list(np.arange(s0 + 0.1, s1 - 0.04, 0.17))
fig.add_trace(go.Scatter(x=chev_x, y=[GA_Y] * len(chev_x), xaxis="x", yaxis="y13", mode="markers",
                         marker=CHEV, hoverinfo="skip", showlegend=False))
annotations.append(dict(text=A_GENE_NAME, xref="x", yref="y13", x=A_GENE_NAME_X, y=15, showarrow=False,
                        xanchor="center", yanchor="middle", font=dict(size=12, color="#222", family=FONT)))

# panel B genes
GB_Y, GB_B0, GB_B1 = 10.3, 7.4, 13.2
shapes.append(dict(type="line", xref="x2", yref="y14", x0=B_GENE_START[0], x1=B_GENE_START[1], y0=GB_Y, y1=GB_Y,
                   line=dict(color=GENE_LINE, width=1)))
shapes.append(dict(type="line", xref="x2", yref="y14", x0=B_GENE_START[0], x1=B_GENE_START[0], y0=GB_Y - 2.3,
                   y1=GB_Y + 2.3, line=dict(color=GENE_LINE, width=1)))
shapes.append(dict(type="line", xref="x2", yref="y14", x0=B_GENE_INTRONS[0][0], x1=B_GENE_INTRONS[-1][1],
                   y0=GB_Y, y1=GB_Y, line=dict(color=GENE_LINE, width=1)))
for u0, u1 in B_GENE_UTR:
    shapes.append(dict(type="rect", xref="x2", yref="y14", x0=u0, x1=u1, y0=GB_B0, y1=GB_B1,
                       fillcolor=UTR_COLOR, line=dict(width=0)))
for c0, c1 in B_GENE_CDS:
    shapes.append(dict(type="rect", xref="x2", yref="y14", x0=c0, x1=c1, y0=GB_B0, y1=GB_B1,
                       fillcolor=GENE_BLUE, line=dict(width=0)))
chev_b = []
for s0, s1 in B_GENE_INTRONS:
    chev_b += list(np.arange(s0 + 0.1, s1 - 0.04, 0.17))
fig.add_trace(go.Scatter(x=chev_b, y=[GB_Y] * len(chev_b), xaxis="x2", yaxis="y14", mode="markers",
                         marker=CHEV, hoverinfo="skip", showlegend=False))
fig.add_trace(go.Scatter(x=[(B_GENE_START[0] + B_GENE_START[1]) / 2], y=[GB_Y], xaxis="x2", yaxis="y14",
                         mode="markers", marker=dict(CHEV, symbol="y-right"), hoverinfo="skip", showlegend=False))
for name, gx, gy in zip(B_GENE_NAMES, B_GENE_NAME_X, [19, 17.5]):
    annotations.append(dict(text=name, xref="x2", yref="y14", x=gx, y=gy, showarrow=False,
                            xanchor="center", yanchor="middle", font=dict(size=11.5, color="#222", family=FONT)))

fig.update_layout(
    width=W_PX, height=H_PX, autosize=False, margin=dict(l=0, r=0, t=0, b=0),
    paper_bgcolor="white", plot_bgcolor="white", template="none",
    font=dict(family=FONT, color="#222"), showlegend=False,
    shapes=shapes, annotations=annotations, **axes)

fig.write_html("out.html", config={"displayModeBar": False},
               post_script="document.body.style.margin='0px';document.body.style.padding='0px';")
